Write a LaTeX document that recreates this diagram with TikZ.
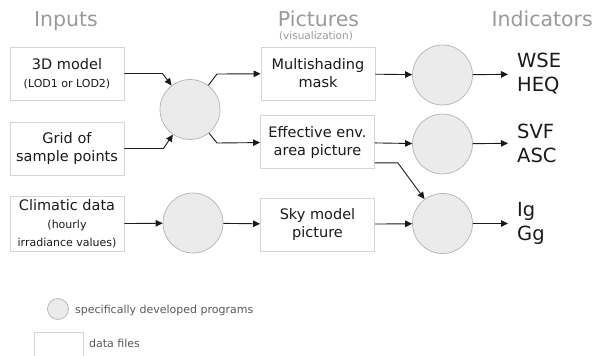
\documentclass[tikz,border=0pt]{standalone}
\usepackage{fontspec}
\setmainfont{DejaVu Sans}
\usetikzlibrary{arrows.meta}

\definecolor{boxline}{HTML}{D6D6D6}
\definecolor{progfill}{HTML}{EBEBEB}
\definecolor{progline}{HTML}{B3B3B3}
\definecolor{headgray}{HTML}{9A9A9A}
\definecolor{txt}{HTML}{1A1A1A}
\definecolor{legendtxt}{HTML}{5A5A5A}

\newcommand{\subtxt}[1]{{\fontsize{11}{18}\selectfont #1}}

\begin{document}
\begin{tikzpicture}
  [x=1pt,y=-1pt,
   file/.style={shape=rectangle, draw=boxline, line width=0.8pt,
     minimum width=114pt, minimum height=53pt, align=center, text=txt,
     font=\fontsize{14.5}{18}\selectfont},
   prog/.style={shape=circle, draw=progline, line width=0.7pt, fill=progfill,
     minimum size=60pt, inner sep=0pt},
   head/.style={anchor=base, inner sep=0pt, text=headgray, font=\fontsize{20.5}{24}\selectfont},
   ind/.style={anchor=west, align=left, inner xsep=9pt, inner ysep=0pt,
     text=txt, font=\fontsize{19.5}{24}\selectfont},
   legend/.style={anchor=base west, inner sep=0pt, text=legendtxt,
     font=\fontsize{11}{13}\selectfont},
   arr/.style={draw=txt, line width=0.9pt, -{Triangle[length=7pt,width=6.5pt]}}]
  \useasboundingbox (0,0) rectangle (595,356);

  % column heads
  \node[head] (hin) at (66,27) {Inputs};
  \node[head] (hpic) at (318.5,27) {Pictures};
  \node[anchor=base, inner sep=0pt, text=headgray, font=\fontsize{10.5}{12}\selectfont] (hvis) at (316,39.5) {(visualization)};
  \node[head, anchor=base east] (hind) at (593,27) {Indicators};

  % input files
  \node[file] (m3d) at (67,73.5) {3D model\\\subtxt{(LOD1 or LOD2)}};
  \node[file] (grid) at (67,148.5) {Grid of\\sample points};
  \node[file] (clim) at (67,224) {Climatic data\\\subtxt{(hourly}\\\subtxt{irradiance values)}};

  % programs
  \node[prog] (c1) at (190,109.5) {};
  \node[prog] (c2) at (193,223) {};
  \node[prog] (cW) at (442.5,75) {};
  \node[prog] (cS) at (442.5,144) {};
  \node[prog] (cI) at (442.5,223.5) {};

  % pictures
  \node[file] (mask) at (318,73.5) {Multishading\\mask};
  \node[file] (env) at (317.5,142) {Effective env.\\area picture};
  \node[file] (sky) at (317.5,224.5) {Sky model\\picture};

  % indicators
  \node[ind] (wse) at (508,74) {WSE\\HEQ};
  \node[ind] (svf) at (508,143) {SVF\\ASC};
  \node[ind] (igg) at (508,223.5) {Ig\\Gg};

  % bends
  \coordinate (k1) at (217,74);
  \coordinate (k2) at (217,143);

  \begin{scope}[arr]
    \draw (m3d.east) -- ++(38,0) -- (c1);
    \draw (grid.east) -- ++(39,0) -- (c1);
    \draw (c1) -- (k1) -- (mask);
    \draw (c1) -- (k2) -- (env);
    \draw ([yshift=6pt]env.south east) -- ++(23,0) -- (cI);
    \foreach \from/\to in {clim/c2,c2/sky,mask/cW,env/cS,sky/cI,cW/wse,cS/svf,cI/igg}
      \draw (\from) -- (\to);
  \end{scope}

  % legend
  \node[prog, minimum size=21pt] (lgprog) at (58,309) {};
  \node[legend] (lgprogtxt) at (75,313) {specifically developed programs};
  \node[file, minimum width=49pt, minimum height=32pt] (lgfile) at (58.5,348) {};
  \node[legend] (lgfiletxt) at (89,347) {data files};
\end{tikzpicture}
\end{document}
